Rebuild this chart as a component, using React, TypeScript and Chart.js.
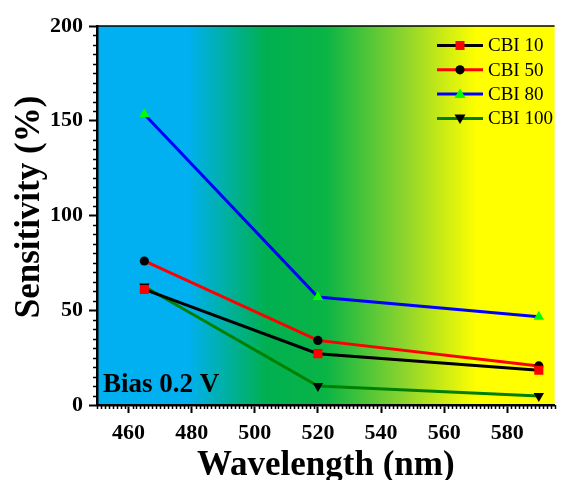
import React, { useEffect, useRef } from 'react';
import { Chart, registerables } from 'chart.js';

Chart.register(...registerables);

// ---- data ----
const wavelengths = [465, 520, 590];
const cbi10 = [61, 27.1, 18.3];
const cbi50 = [76, 34.1, 20.6];
const cbi80 = [153.4, 57, 46.6];
const cbi100 = [62.5, 10, 4.7];
const seriesLabels = ['CBI 10', 'CBI 50', 'CBI 80', 'CBI 100'];
const xTicks = [460, 480, 500, 520, 540, 560, 580];
const yTicks = [0, 50, 100, 150, 200];
const xTitle = 'Wavelength (nm)';
const yTitle = 'Sensitivity (%)';
const noteText = 'Bias 0.2 V';

const FONT = "'Liberation Serif', 'Times New Roman', serif";

type Marker = { style: 'rect' | 'circle' | 'triangle' | 'down'; fill: string; line: string };
const styles: Marker[] = [
  { style: 'rect', fill: '#ff0000', line: '#000000' },
  { style: 'circle', fill: '#000000', line: '#ff0000' },
  { style: 'triangle', fill: '#00ff00', line: '#0000ff' },
  { style: 'down', fill: '#000000', line: '#008000' },
];

function drawMarker(ctx: CanvasRenderingContext2D, m: Marker, x: number, y: number) {
  ctx.save();
  ctx.fillStyle = m.fill;
  ctx.beginPath();
  if (m.style === 'rect') {
    ctx.rect(x - 4.5, y - 4.5, 9, 9);
  } else if (m.style === 'circle') {
    ctx.arc(x, y, 4.6, 0, Math.PI * 2);
  } else if (m.style === 'triangle') {
    ctx.moveTo(x, y - 5.5);
    ctx.lineTo(x + 5.5, y + 4);
    ctx.lineTo(x - 5.5, y + 4);
    ctx.closePath();
  } else {
    ctx.moveTo(x, y + 5.5);
    ctx.lineTo(x + 5.5, y - 4);
    ctx.lineTo(x - 5.5, y - 4);
    ctx.closePath();
  }
  ctx.fill();
  ctx.restore();
}

const decorPlugin = {
  id: 'decor',
  beforeDraw(chart: any) {
    const { ctx, chartArea: a } = chart;
    const g = ctx.createLinearGradient(a.left, 0, a.right, 0);
    g.addColorStop(0, 'rgb(0,176,240)');
    g.addColorStop(0.2, 'rgb(0,176,240)');
    g.addColorStop(0.37, 'rgb(0,176,80)');
    g.addColorStop(0.5, 'rgb(10,180,70)');
    g.addColorStop(0.67, 'rgb(140,212,45)');
    g.addColorStop(0.83, 'rgb(255,255,0)');
    g.addColorStop(1, 'rgb(255,255,0)');
    ctx.save();
    ctx.fillStyle = g;
    ctx.fillRect(a.left, a.top, a.right - a.left, a.bottom - a.top);
    ctx.restore();
  },
  afterDraw(chart: any) {
    const { ctx, chartArea: a, scales } = chart;
    const xs = scales.x;
    const ys = scales.y;
    ctx.save();
    // top border
    ctx.strokeStyle = '#000';
    ctx.lineWidth = 1.5;
    ctx.beginPath();
    ctx.moveTo(a.left, a.top);
    ctx.lineTo(a.right, a.top);
    ctx.stroke();
    // minor ticks
    ctx.lineWidth = 1.5;
    for (let v = 0; v <= 200; v += 5) {
      if (v % 50 === 0) continue;
      const y = Math.round(ys.getPixelForValue(v)) + 0.5;
      ctx.beginPath();
      ctx.moveTo(a.left, y);
      ctx.lineTo(a.left - 4, y);
      ctx.stroke();
    }
    for (let i = 0; ; i++) {
      const v = 450 + i * 1.25;
      if (v > 595) break;
      if (Math.abs((v - 460) % 20) < 1e-6) continue;
      const x = Math.round(xs.getPixelForValue(v)) + 0.5;
      ctx.beginPath();
      ctx.moveTo(x, a.bottom);
      ctx.lineTo(x, a.bottom + 4);
      ctx.stroke();
    }
    // y title
    ctx.fillStyle = '#000';
    ctx.font = `bold 35px ${FONT}`;
    ctx.textAlign = 'center';
    ctx.textBaseline = 'middle';
    ctx.translate(30, 207);
    ctx.rotate(-Math.PI / 2);
    ctx.fillText(yTitle, 0, 0);
    ctx.restore();

    // note
    ctx.save();
    ctx.fillStyle = '#000';
    ctx.font = `bold 27px ${FONT}`;
    ctx.textAlign = 'left';
    ctx.textBaseline = 'alphabetic';
    ctx.fillText(noteText, a.left + 6, a.bottom - 13);
    ctx.restore();

    // legend
    ctx.save();
    ctx.font = `19px ${FONT}`;
    ctx.textAlign = 'left';
    ctx.textBaseline = 'middle';
    seriesLabels.forEach((lab, i) => {
      const y = 45.5 + i * 24.3;
      const m = styles[i];
      ctx.strokeStyle = m.line;
      ctx.lineWidth = 3;
      ctx.beginPath();
      ctx.moveTo(437, y);
      ctx.lineTo(483, y);
      ctx.stroke();
      drawMarker(ctx, m, 460, y);
      ctx.fillStyle = '#000';
      ctx.fillText(lab, 488, y + 1);
    });
    ctx.restore();
  },
};

export default function App() {
  const ref = useRef<HTMLCanvasElement | null>(null);
  useEffect(() => {
    document.body.style.margin = '0';
    Chart.defaults.font.family = FONT;
    const series = [cbi10, cbi50, cbi80, cbi100];
    const datasets = series.map((vals, i) => {
      const m = styles[i];
      return {
        label: seriesLabels[i],
        data: wavelengths.map((w, j) => ({ x: w, y: vals[j] })),
        borderColor: m.line,
        backgroundColor: m.fill,
        borderWidth: 3,
        pointStyle: m.style === 'down' ? 'triangle' : m.style,
        rotation: m.style === 'down' ? 180 : 0,
        pointRadius: m.style === 'rect' ? 6.4 : m.style === 'circle' ? 4.6 : 6,
        pointBorderWidth: 0,
        pointBackgroundColor: m.fill,
        pointBorderColor: m.fill,
        tension: 0,
      };
    });
    const chart = new Chart(ref.current as HTMLCanvasElement, {
      type: 'line',
      data: { datasets: datasets as any },
      plugins: [decorPlugin],
      options: {
        animation: false,
        responsive: false,
        devicePixelRatio: 1,
        layout: { padding: { top: 26, right: 5, left: 0, bottom: 0 } },
        plugins: { legend: { display: false }, tooltip: { enabled: false } },
        scales: {
          x: {
            type: 'linear',
            min: 450,
            max: 595,
            afterBuildTicks: (s: any) => {
              s.ticks = xTicks.map((v) => ({ value: v }));
            },
            afterFit: (s: any) => {
              s.height = 75;
            },
            ticks: {
              color: '#000',
              font: { size: 22, weight: 'bold', family: FONT },
              padding: 7,
              maxRotation: 0,
              autoSkip: false,
            },
            grid: {
              drawOnChartArea: false,
              drawTicks: true,
              tickLength: 8,
              tickWidth: 2,
              tickColor: '#000',
            },
            border: { display: true, color: '#000', width: 2.5 },
            title: {
              display: true,
              text: xTitle,
              color: '#000',
              font: { size: 35, weight: 'bold', family: FONT, lineHeight: 1 },
              padding: { top: 0, bottom: -3 },
            },
          },
          y: {
            type: 'linear',
            min: 0,
            max: 200,
            afterBuildTicks: (s: any) => {
              s.ticks = yTicks.map((v) => ({ value: v }));
            },
            afterFit: (s: any) => {
              s.width = 97;
            },
            ticks: {
              color: '#000',
              font: { size: 22, weight: 'bold', family: FONT },
              padding: 6,
            },
            grid: {
              drawOnChartArea: false,
              drawTicks: true,
              tickLength: 8,
              tickWidth: 2,
              tickColor: '#000',
            },
            border: { display: true, color: '#000', width: 2.5 },
          },
        },
      } as any,
    });
    return () => chart.destroy();
  }, []);
  return (
    <div style={{ width: 561, height: 480, background: '#fff' }}>
      <canvas ref={ref} width={561} height={480} style={{ display: 'block', width: 561, height: 480 }} />
    </div>
  );
}
